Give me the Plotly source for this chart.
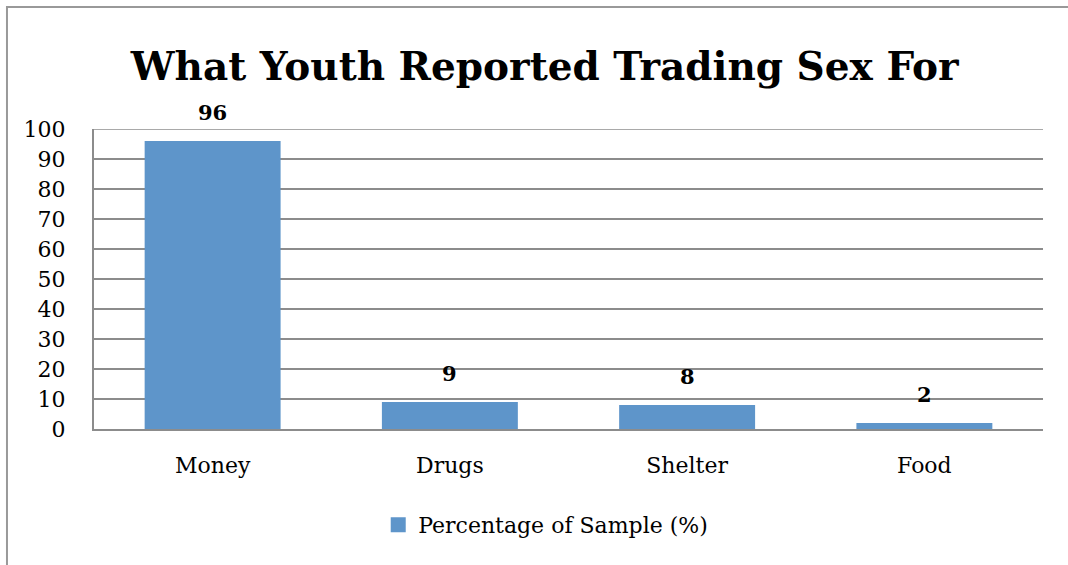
import plotly.graph_objects as go

# Chart data
categories = ["Money", "Drugs", "Shelter", "Food"]
percentages = [96, 9, 8, 2]
series_name = "Percentage of Sample (%)"
y_ticks = [0, 10, 20, 30, 40, 50, 60, 70, 80, 90, 100]

FONT = "DejaVu Serif"
BAR_COLOR = "#5E95CA"
GRID_COLOR = "#8C8C8C"

fig = go.Figure()
fig.add_trace(go.Bar(
    x=categories,
    y=percentages,
    name=series_name,
    marker=dict(color=BAR_COLOR, line=dict(width=0)),
    showlegend=False,
))

# Legend entry with a larger square swatch
fig.add_trace(go.Scatter(
    x=[None], y=[None], mode="markers", name=series_name,
    marker=dict(symbol="square", size=15, color=BAR_COLOR),
    showlegend=True,
))

# Bold value labels above each bar
for cat, val in zip(categories, percentages):
    fig.add_annotation(
        x=cat, y=val, text=f"<b>{val}</b>", showarrow=False,
        yanchor="middle", yshift=29,
        font=dict(family=FONT, size=21, color="#000000"),
    )

# Top gridline at the axis maximum
fig.add_shape(
    type="line", xref="paper", yref="y", x0=0, x1=1,
    y0=y_ticks[-1], y1=y_ticks[-1],
    line=dict(color=GRID_COLOR, width=1.5), layer="below",
)

# Outer chart frame
fig.add_shape(
    type="rect", xref="paper", yref="paper",
    x0=-0.0917, x1=1.3, y0=-1.0, y1=1.4067,
    line=dict(color="#999999", width=2), fillcolor="rgba(0,0,0,0)",
    layer="below",
)

fig.update_layout(
    width=1068, height=565,
    margin=dict(l=94, r=25, t=129, b=136),
    paper_bgcolor="#FFFFFF", plot_bgcolor="#FFFFFF",
    bargap=0.427,
    title=dict(
        text="<b>What Youth Reported Trading Sex For</b>",
        x=0.510, xanchor="center", xref="container",
        y=1 - 66 / 565, yanchor="middle", yref="container",
        font=dict(family=FONT, size=39, color="#000000"),
    ),
    font=dict(family=FONT, color="#000000"),
    legend=dict(
        orientation="h", x=0.476, xanchor="center", y=-0.32, yanchor="middle",
        font=dict(family=FONT, size=22, color="#000000"),
        itemwidth=30,
    ),
    xaxis=dict(
        showgrid=False, showline=True, linecolor=GRID_COLOR, linewidth=2,
        ticks="", ticklabelstandoff=16,
        tickfont=dict(family=FONT, size=22, color="#000000"),
    ),
    yaxis=dict(
        range=[0, 100], tickvals=y_ticks, showgrid=True, gridcolor=GRID_COLOR,
        gridwidth=1.5, showline=True, linecolor=GRID_COLOR, linewidth=2,
        zeroline=False, ticks="", ticklabelstandoff=22,
        tickfont=dict(family=FONT, size=22, color="#000000"),
    ),
)

fig.write_html("out.html")
